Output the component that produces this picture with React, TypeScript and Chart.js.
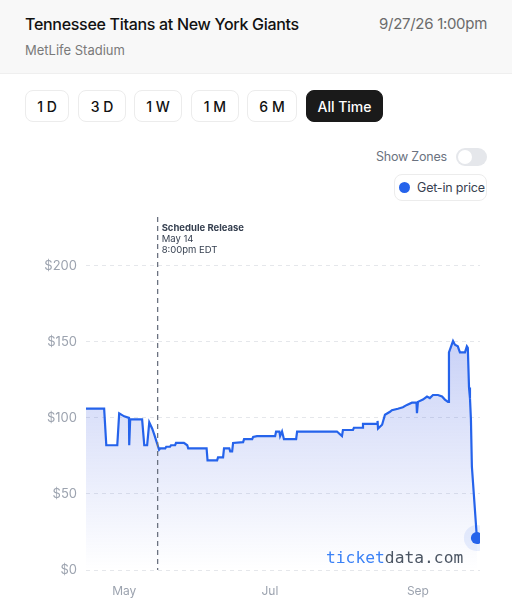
import React, { useEffect, useRef } from "react";
import { Chart, registerables } from "chart.js";

Chart.register(...registerables);

// Days counted from Apr 1 (day 0)
const priceDays = [
  14, 21.6, 22.5, 27.1, 27.9, 30, 32, 32.1, 32.5, 37.5, 38.4, 39.6, 40.5, 41.7, 42.6, 43, 43.4, 44.6,
  45.1, 47.2, 47.6, 49.2, 49.6, 51.3, 51.7, 55, 56.4, 56.8, 64.5, 64.9, 68.9, 69.3, 71.4, 71.8, 74,
  74.4, 75.2, 75.6, 79.8, 80.2, 83.6, 84, 85.6, 93.2, 93.6, 95, 95.3, 96.1, 96.9, 102, 102.4, 119.1,
  121.2, 121.6, 125.8, 126.2, 129.6, 130, 135.9, 136.1, 136.3, 138, 139.2, 141.3, 142.1, 144.6, 146.7,
  148.4, 150.5, 152.4, 152.6, 153, 155.1, 156.8, 158, 159.3, 161.4, 163.1, 164.3, 165.6, 166, 167.7,
  168.5, 169.7, 170.6, 172.7, 173.5, 173.9, 174.4, 174.8, 175.2, 175.6, 177.7,
];
const prices = [
  106, 106, 82, 82, 103, 101, 100, 82, 99, 99, 82, 82, 97, 93, 89, 87, 85, 79,
  80, 80, 81, 81, 82, 82, 83.5, 83.5, 82, 80, 80, 72, 72, 74, 74, 80, 80,
  78, 78, 83.5, 84, 86, 86, 87.5, 88, 88, 91, 91, 88, 91, 86, 86, 91, 91,
  88, 92, 92, 93.5, 93.5, 96, 96, 98, 93, 95.5, 102, 104, 105, 106, 107,
  108.5, 110, 110, 103, 110.5, 112, 114, 113, 115, 115, 114, 112, 110.5, 143, 150.5,
  148, 147, 143, 143, 147, 146, 120, 113, 99, 68, 21,
];

const xTickDays = [30, 91, 153];
const xTickLabels = ["May", "Jul", "Sep"];
const yTickValues = [0, 50, 100, 150, 200];

const annotationDay = 44;
const annotationLines = ["Schedule Release", "May 14", "8:00pm EDT"];

const buttons = ["1 D", "3 D", "1 W", "1 M", "6 M", "All Time"];

const BLUE = "#2563eb";
const FONT = "Inter, 'Noto Sans', sans-serif";

export default function App() {
  const canvasRef = useRef<HTMLCanvasElement | null>(null);

  useEffect(() => {
    document.body.style.margin = "0";
    const canvas = canvasRef.current;
    if (!canvas) return;

    const points = priceDays.map((d, i) => ({ x: d, y: prices[i] }));
    const last = points[points.length - 1];

    const annotationPlugin = {
      id: "scheduleRelease",
      afterDatasetsDraw(chart: any) {
        const { ctx, chartArea, scales } = chart;
        const x = scales.x.getPixelForValue(annotationDay);
        ctx.save();
        ctx.strokeStyle = "#6b7280";
        ctx.lineWidth = 1.3;
        ctx.setLineDash([5, 4]);
        ctx.beginPath();
        ctx.moveTo(x, chartArea.top);
        ctx.lineTo(x, chartArea.bottom);
        ctx.stroke();
        ctx.setLineDash([]);
        ctx.fillStyle = "#374151";
        ctx.textAlign = "left";
        ctx.textBaseline = "middle";
        annotationLines.forEach((t, i) => {
          ctx.font = (i === 0 ? "bold " : "") + "9.5px " + FONT;
          ctx.fillText(t, x + 4, chartArea.top + 11 + i * 11);
        });
        ctx.restore();
      },
    };

    const chart = new Chart(canvas, {
      type: "line",
      data: {
        datasets: [
          {
            data: points,
            borderColor: BLUE,
            borderWidth: 2.2,
            pointRadius: points.map((_, i) => (i === points.length - 1 ? 6 : 0)),
            pointBackgroundColor: BLUE,
            pointBorderWidth: 0,
            tension: 0,
            fill: "origin",
            order: 1,
            backgroundColor: (context: any) => {
              const { chart } = context;
              const { ctx, chartArea } = chart;
              if (!chartArea) return "rgba(37,99,235,0.15)";
              const g = ctx.createLinearGradient(0, chartArea.top + 120, 0, chartArea.bottom);
              g.addColorStop(0, "rgba(59,90,225,0.28)");
              g.addColorStop(0.6, "rgba(59,90,225,0.11)");
              g.addColorStop(1, "rgba(59,90,225,0.0)");
              return g;
            },
          },
          {
            data: [last],
            showLine: false,
            pointRadius: 13,
            pointBackgroundColor: "rgba(37,99,235,0.1)",
            pointBorderWidth: 0,
            order: 2,
          },
        ],
      },
      options: {
        animation: false,
        responsive: false,
        events: [],
        layout: { padding: { top: 17, right: 32, left: 0, bottom: 0 } },
        plugins: { legend: { display: false }, tooltip: { enabled: false } },
        scales: {
          x: {
            type: "linear",
            min: 14,
            max: 179,
            grid: { display: false, drawTicks: false },
            border: { display: false },
            afterBuildTicks: (scale: any) => {
              scale.ticks = xTickDays.map((v) => ({ value: v }));
            },
            afterFit: (scale: any) => {
              scale.height = 38;
            },
            ticks: {
              padding: 14,
              color: "#9ca3af",
              font: { family: FONT, size: 12 },
              maxRotation: 0,
              autoSkip: false,
              callback: (v: any) => {
                const i = xTickDays.indexOf(Number(v));
                return i >= 0 ? xTickLabels[i] : "";
              },
            },
          },
          y: {
            min: 0,
            max: 232,
            grid: { color: "#e5e7eb", drawTicks: false, lineWidth: 1 },
            border: { display: false, dash: [4, 4] },
            afterBuildTicks: (scale: any) => {
              scale.ticks = yTickValues.map((v) => ({ value: v }));
            },
            afterFit: (scale: any) => {
              scale.width = 86;
            },
            ticks: {
              padding: 9,
              color: "#9ca3af",
              font: { family: FONT, size: 13 },
              callback: (v: any) => "$" + v,
            },
          },
        },
      },
      plugins: [annotationPlugin],
    } as any);

    return () => chart.destroy();
  }, []);

  return (
    <div style={{ position: "relative", width: 512, height: 608, background: "#fff", fontFamily: FONT, overflow: "hidden" }}>
      <div style={{ position: "absolute", left: 0, top: 0, width: 512, height: 73, background: "#f8f8f8", borderBottom: "1px solid #efefef" }} />
      <div style={{ position: "absolute", left: 25, top: 14, fontSize: 16, fontWeight: 500, color: "#111", whiteSpace: "nowrap", letterSpacing: -0.3 }}>
        Tennessee Titans at New York Giants
      </div>
      <div style={{ position: "absolute", right: 25, top: 14, fontSize: 15, color: "#6b6b6b", whiteSpace: "nowrap", letterSpacing: -0.3 }}>9/27/26 1:00pm</div>
      <div style={{ position: "absolute", left: 25, top: 42, fontSize: 13, color: "#7a7a7a", whiteSpace: "nowrap" }}>MetLife Stadium</div>

      {buttons.map((b, i) => {
        const lefts = [25, 78, 134, 191, 247, 306];
        const widths = [44, 48, 48, 48, 50, 77];
        const active = b === "All Time";
        return (
          <div
            key={b}
            style={{
              position: "absolute",
              left: lefts[i],
              top: 90,
              width: widths[i],
              height: 32,
              boxSizing: "border-box",
              borderRadius: 8,
              border: active ? "1px solid #1a1a1a" : "1px solid #ececec",
              background: active ? "#1a1a1a" : "#fff",
              color: active ? "#fff" : "#111",
              fontSize: 14,
              fontWeight: 500,
              display: "flex",
              alignItems: "center",
              justifyContent: "center",
              whiteSpace: "nowrap",
            }}
          >
            {b}
          </div>
        );
      })}

      <div style={{ position: "absolute", right: 512 - 447, top: 149, fontSize: 12.5, color: "#6b7280", whiteSpace: "nowrap", letterSpacing: -0.2 }}>Show Zones</div>
      <div style={{ position: "absolute", left: 456, top: 148, width: 31, height: 18, borderRadius: 9, background: "#e5e7eb" }}>
        <div style={{ position: "absolute", left: 2, top: 2, width: 14, height: 14, borderRadius: 7, background: "#fff" }} />
      </div>

      <div
        style={{
          position: "absolute",
          left: 394,
          top: 174,
          width: 93,
          height: 27,
          boxSizing: "border-box",
          border: "1px solid #ececec",
          borderRadius: 8,
        }}
      >
        <div style={{ position: "absolute", left: 4, top: 7, width: 11, height: 11, borderRadius: 6, background: BLUE }} />
        <div style={{ position: "absolute", left: 22, top: 5, fontSize: 12.5, color: "#374151", whiteSpace: "nowrap", letterSpacing: -0.2 }}>Get-in price</div>
      </div>

      <canvas ref={canvasRef} width={512} height={408} style={{ position: "absolute", left: 0, top: 200, width: 512, height: 408 }} />

      <div style={{ position: "absolute", left: 326, top: 548, fontFamily: "'DejaVu Sans Mono', monospace", fontSize: 16.3, whiteSpace: "nowrap" }}>
        <span style={{ color: "#3b82f6" }}>ticket</span>
        <span style={{ color: "#4b5563" }}>data.com</span>
      </div>
    </div>
  );
}
